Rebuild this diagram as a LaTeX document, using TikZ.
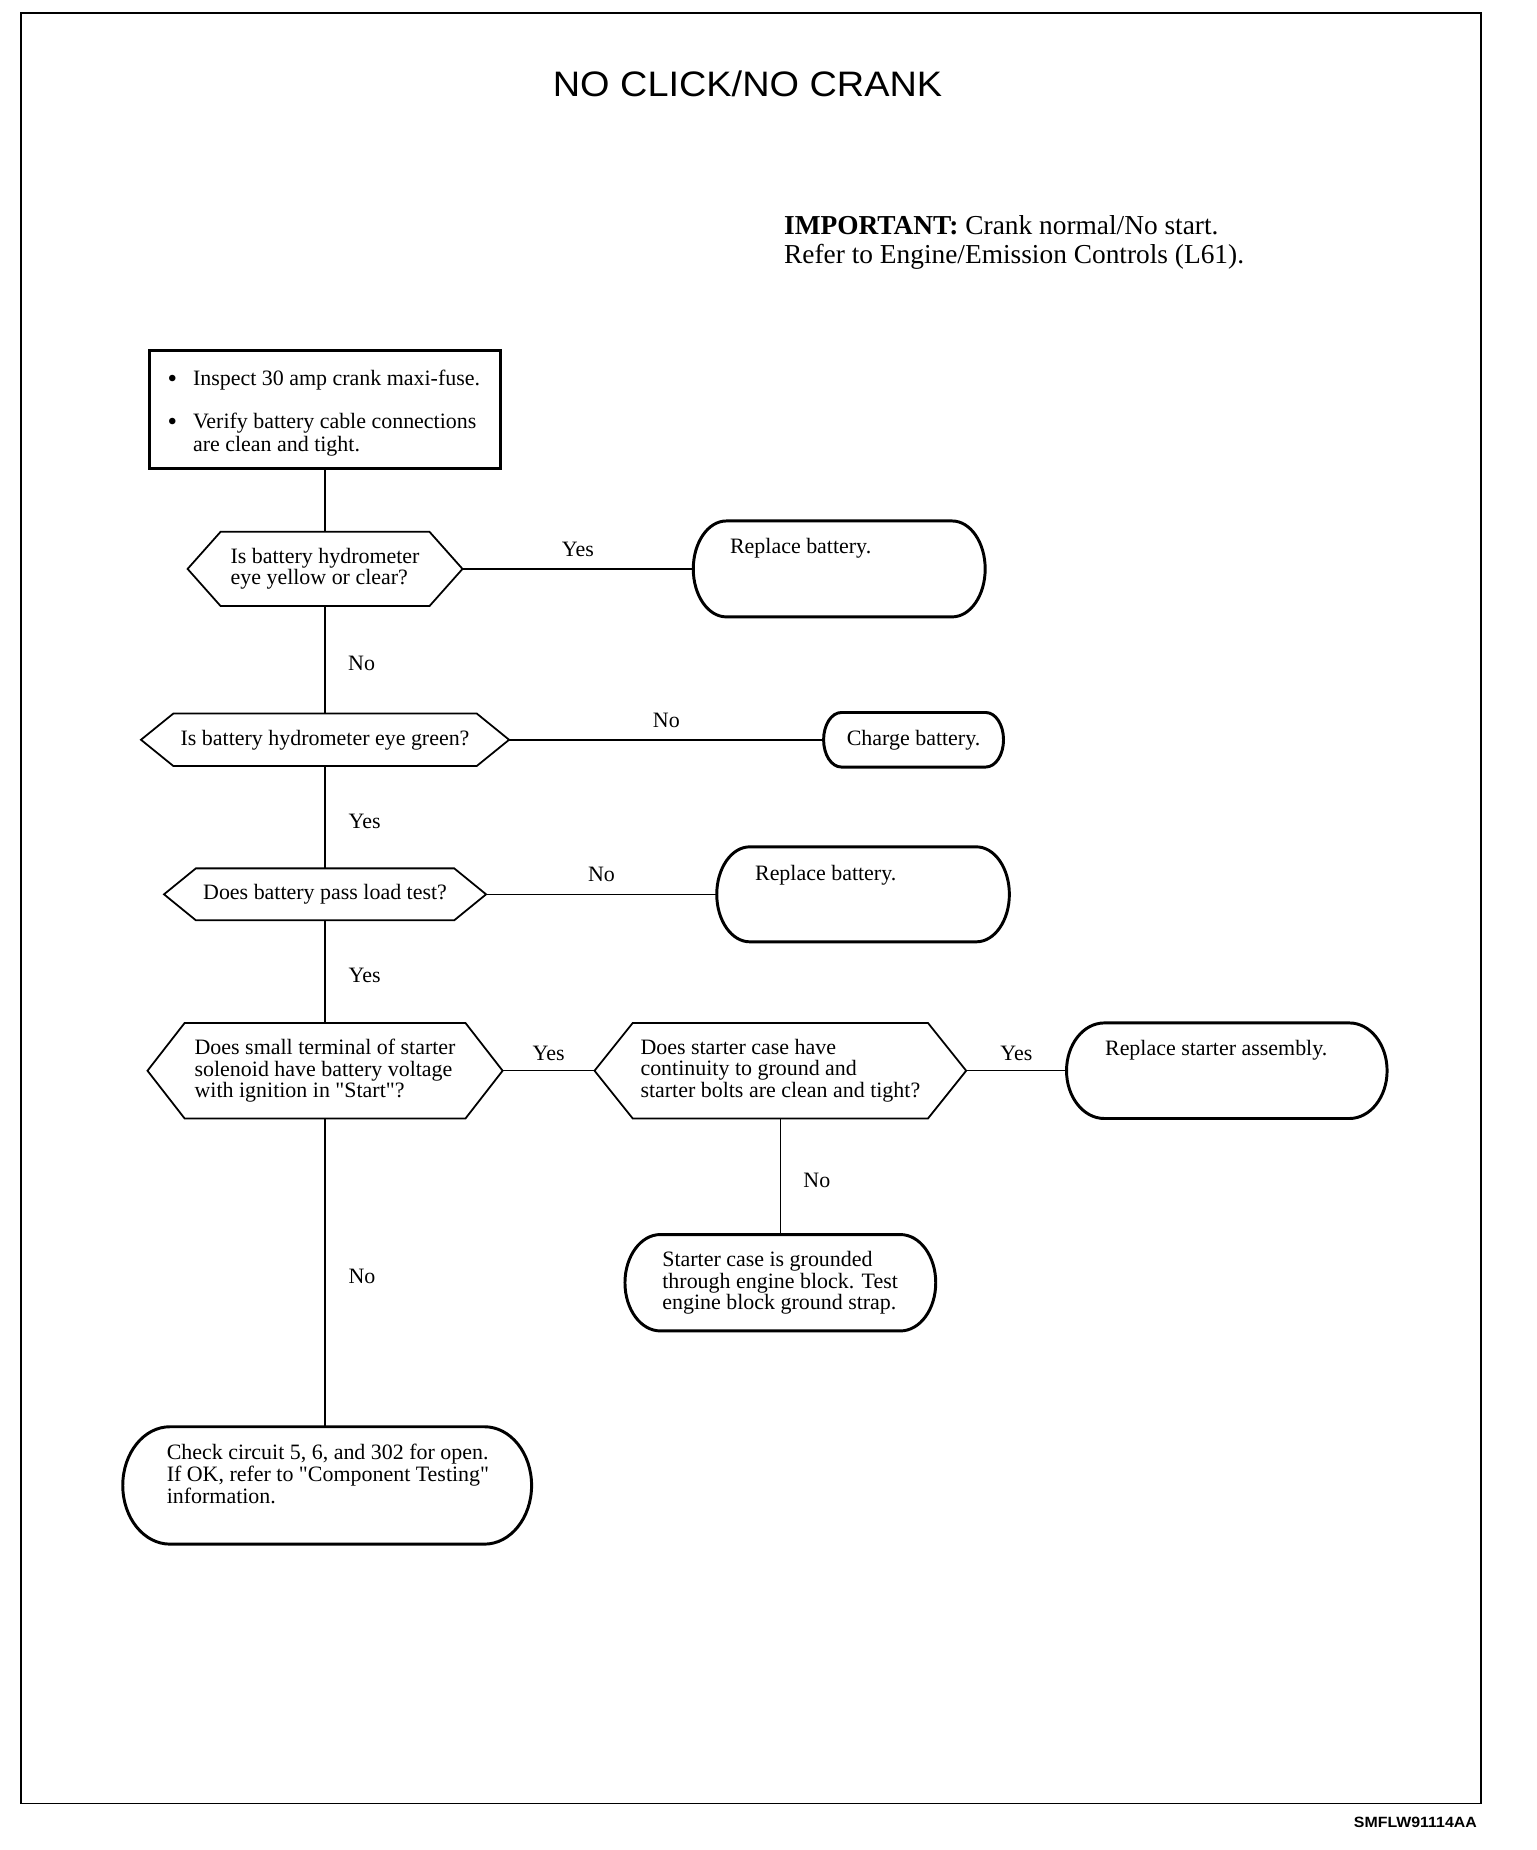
\documentclass[tikz,border=0pt]{standalone}
\usepackage{fontspec}
\setmainfont{Liberation Serif}
\newfontfamily\titlefont[FakeStretch=1.07]{Liberation Sans}
\newcommand\lines[1]{\begin{tabular}[t]{@{}l@{}}#1\end{tabular}}
\newcommand\hexpath[2]{\draw[hexline] (#1.west) -- ([xshift=#2]#1.north west) -- ([xshift=-#2]#1.north east) -- (#1.east) -- ([xshift=-#2]#1.south east) -- ([xshift=#2]#1.south west) -- cycle;}
\newcommand\capsule[3]{\draw[termline] ([xshift=#2]#1.north west) -- ([xshift=-#2]#1.north east) arc[start angle=90,end angle=-90,x radius=#2,y radius=#3] -- ([xshift=#2]#1.south west) arc[start angle=270,end angle=90,x radius=#2,y radius=#3] -- cycle;}
\newcommand\bul{\makebox[10.8pt][l]{\raisebox{-0.9pt}{\fontsize{11.5}{12}\selectfont\textbullet}}}
\tikzset{
  body/.style={font=\fontsize{9.3}{9.1}\selectfont},
  dec/.style={body, align=left},
  term/.style={body},
  lab/.style={body},
  hexline/.style={line width=0.75pt, line join=miter},
  termline/.style={line width=1.25pt},
  conn/.style={line width=0.65pt},
  frameline/.style={line width=0.8pt},
  boxline/.style={draw, line width=1.2pt},
}
\begin{document}
\begin{tikzpicture}[x=0.5pt,y=-0.5pt, every node/.style={inner sep=0pt,outer sep=0pt}]
\useasboundingbox (0,0) rectangle (1302,1568);
\draw[frameline] (18,11) rectangle (1255.5,1528.6);
\node[font=\titlefont\fontsize{15}{18}\selectfont, anchor=base] (title) at (633.6,82) {NO CLICK/NO CRANK};
\node[font=\fontsize{11.6}{12}\selectfont, anchor=base west] (imp) at (664.6,199) {\lines{\textbf{IMPORTANT:} Crank normal/No start.\\ Refer to Engine/Emission Controls (L61).}};
\node[font=\titlefont\bfseries\fontsize{6.3}{7}\selectfont, anchor=base east] (code) at (1251.7,1549) {SMFLW91114AA};

% first box
\node[boxline, minimum width=148.5pt, minimum height=50pt] (b1) at (275.5,347) {};
\node[font=\fontsize{9.3}{10}\selectfont, anchor=base west] (b1t) at ([shift={(7.5pt,-14.7pt)}]b1.north west) {\lines{\bul Inspect 30 amp crank maxi-fuse.\\[8.3pt] \bul Verify battery cable connections\\ \hspace{10.8pt}are clean and tight.}};

% decisions and results
\node[dec, minimum width=116.5pt, minimum height=31.5pt] (d1) at (275.5,482.2) {Is battery hydrometer\\eye yellow or clear?};
\hexpath{d1}{14pt}
\node[term, minimum width=123.7pt, minimum height=40.65pt] (rb1) at (711.3,482.2) {};
\capsule{rb1}{14pt}{20.325pt}
\node[body, anchor=base west] (rb1t) at ([shift={(15.6pt,-13.8pt)}]rb1.north west) {Replace battery.};

\node[dec, minimum width=156pt, minimum height=22.3pt] (d2) at (275.5,627) {Is battery hydrometer eye green?};
\hexpath{d2}{13.75pt}
\node[term, minimum width=76.25pt, minimum height=23.1pt] (cb) at (774.3,627) {Charge battery.};
\capsule{cb}{7.5pt}{11.55pt}

\node[dec, minimum width=136.5pt, minimum height=22pt] (d3) at (275.5,758) {Does battery pass load test?};
\hexpath{d3}{13.5pt}
\node[term, minimum width=124pt, minimum height=40.25pt] (rb2) at (731.5,758) {};
\capsule{rb2}{14pt}{20.125pt}
\node[body, anchor=base west] (rb2t) at ([shift={(16.25pt,-14.15pt)}]rb2.north west) {Replace battery.};

\node[dec, minimum width=150.5pt, minimum height=40.5pt] (d4) at (275.5,907.5) {Does small terminal of starter\\solenoid have battery voltage\\with ignition in \textquotedbl Start\textquotedbl ?};
\hexpath{d4}{15.75pt}
\node[dec, minimum width=157.5pt, minimum height=40.5pt] (d5) at (661.4,907.5) {Does starter case have\\continuity to ground and\\starter bolts are clean and tight?};
\hexpath{d5}{16.2pt}
\node[term, minimum width=135.85pt, minimum height=40.5pt] (rsa) at (1039.8,907.5) {};
\capsule{rsa}{16pt}{20.25pt}
\node[body, anchor=base west] (rsat) at ([shift={(16.35pt,-14pt)}]rsa.north west) {Replace starter assembly.};

\node[term, minimum width=131.7pt, minimum height=40.85pt] (sc) at (661.4,1087.2) {};
\capsule{sc}{15pt}{20.425pt}
\node[body, anchor=base west] (sct) at ([shift={(15.85pt,-13.6pt)}]sc.north west) {\lines{Starter case is grounded\\through engine block. Test\\engine block ground strap.}};

\node[term, minimum width=173.25pt, minimum height=49.75pt] (chk) at (277.3,1259) {};
\capsule{chk}{20pt}{24.875pt}
\node[body, anchor=base west] (chkt) at ([shift={(18.65pt,-13.85pt)}]chk.north west) {\lines{Check circuit 5, 6, and 302 for open.\\If OK, refer to \textquotedbl Component Testing\textquotedbl\\information.}};

% connectors
\draw[conn] (b1.south) -- (d1.north);
\draw[conn] (d1.east) -- node[lab, above=5pt] (y1) {Yes} (rb1.west);
\draw[conn] (d1.south) -- node[lab, right=9.8pt, yshift=-1.75pt] (n1) {No} (d2.north);
\draw[conn] (d2.east) -- node[lab, above=5.2pt] (n2) {No} (cb.west);
\draw[conn] (d2.south) -- node[lab, right=10pt, yshift=-1.75pt] (y2) {Yes} (d3.north);
\draw[conn] (d3.east) -- node[lab, above=5.3pt] (n3) {No} (rb2.west);
\draw[conn] (d3.south) -- node[lab, right=10pt, yshift=-1.75pt] (y3) {Yes} (d4.north);
\draw[conn] (d4.east) -- node[lab, above=4.3pt] (y4) {Yes} (d5.west);
\draw[conn] (d5.east) -- node[lab, above=4.3pt] (y5) {Yes} (rsa.west);
\draw[conn] (d5.south) -- node[lab, right=9.8pt, yshift=-1.75pt] (n4) {No} (sc.north);
\draw[conn] (d4.south) -- node[lab, right=10pt, yshift=-1.75pt] (n5) {No} (d4.south |- chk.north);
\end{tikzpicture}
\end{document}
